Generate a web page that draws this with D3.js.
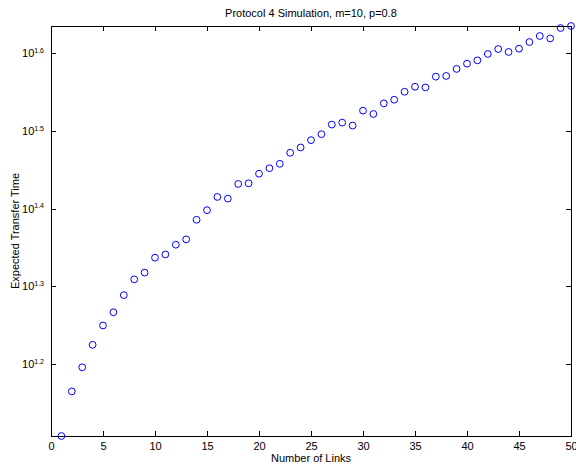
<!DOCTYPE html>
<html>
<head>
<meta charset="utf-8">
<script src="https://cdn.jsdelivr.net/npm/d3@7"></script>
<style>
  html, body { margin: 0; padding: 0; background: #fff; }
  svg { display: block; font-family: "Liberation Sans", Arial, sans-serif; }
  .axis path, .axis line { stroke: #000; stroke-width: 1; shape-rendering: crispEdges; }
  .axis text { fill: #000; }
</style>
</head>
<body>
<svg id="chart" width="576" height="465"></svg>
<script>
// Number of links on the path
const links = d3.range(1, 51);
// Expected transfer time per link count (simulation, m=10, p=0.8)
const transferTime = [
  12.81, 14.62, 15.70, 16.78, 17.77, 18.48, 19.44, 20.37, 20.78, 21.72,
  21.93, 22.57, 22.93, 24.30, 25.00, 26.00, 25.87, 27.02, 27.07, 27.85,
  28.31, 28.68, 29.63, 30.10, 30.76, 31.31, 32.21, 32.40, 32.12, 33.57,
  33.24, 34.30, 34.67, 35.50, 36.03, 35.96, 37.12, 37.20, 37.98, 38.58,
  38.96, 39.70, 40.29, 39.94, 40.33, 41.13, 41.87, 41.57, 42.87, 43.13
];
const xTicks = [0, 5, 10, 15, 20, 25, 30, 35, 40, 45, 50];
const yTickExponents = ["1.2", "1.3", "1.4", "1.5", "1.6"];

const title = "Protocol 4 Simulation, m=10, p=0.8";
const xLabel = "Number of Links";
const yLabel = "Expected Transfer Time";

const svg = d3.select("#chart");
const plotLeft = 51, plotRight = 571, plotTop = 26, plotBottom = 436;

const x = d3.scaleLinear().domain([0, 50]).range([plotLeft, plotRight]);
const y = d3.scaleLog().domain(d3.extent(transferTime)).range([plotBottom, plotTop]);
const yTickValues = yTickExponents.map(e => Math.pow(10, +e));

// Bottom axis with labels
svg.append("g").attr("class", "axis")
  .attr("transform", `translate(0,${plotBottom})`)
  .call(d3.axisBottom(x).tickValues(xTicks).tickSizeInner(-5).tickSizeOuter(0).tickPadding(6))
  .attr("font-size", 11).attr("font-family", null);

// Top axis (ticks only)
svg.append("g").attr("class", "axis")
  .attr("transform", `translate(0,${plotTop})`)
  .call(d3.axisTop(x).tickValues(xTicks).tickSizeInner(-5).tickSizeOuter(0).tickFormat(() => ""));

// Left axis with 10^k labels
const gy = svg.append("g").attr("class", "axis")
  .attr("transform", `translate(${plotLeft},0)`)
  .call(d3.axisLeft(y).tickValues(yTickValues).tickSizeInner(-5).tickSizeOuter(0).tickFormat(() => ""));

gy.selectAll(".tick").append("text")
  .attr("x", -7).attr("dy", "0.32em")
  .attr("text-anchor", "end")
  .attr("font-size", 11)
  .each(function(d, i) {
    const t = d3.select(this);
    t.append("tspan").text("10");
    t.append("tspan").attr("dy", "-0.6em").attr("font-size", 7).text(yTickExponents[i]);
  });

// Right axis (ticks only)
svg.append("g").attr("class", "axis")
  .attr("transform", `translate(${plotRight},0)`)
  .call(d3.axisRight(y).tickValues(yTickValues).tickSizeInner(-5).tickSizeOuter(0).tickFormat(() => ""));

// Data markers
svg.append("g")
  .selectAll("circle")
  .data(links)
  .join("circle")
  .attr("cx", d => x(d))
  .attr("cy", (d, i) => y(transferTime[i]))
  .attr("r", 3.4)
  .attr("fill", "none")
  .attr("stroke", "#0000ff")
  .attr("stroke-width", 1);

// Title and axis labels
svg.append("text")
  .attr("x", (plotLeft + plotRight) / 2).attr("y", 17)
  .attr("text-anchor", "middle").attr("font-size", 11)
  .text(title);

svg.append("text")
  .attr("x", (plotLeft + plotRight) / 2).attr("y", 462)
  .attr("text-anchor", "middle").attr("font-size", 11)
  .text(xLabel);

svg.append("text")
  .attr("transform", `translate(19,${(plotTop + plotBottom) / 2}) rotate(-90)`)
  .attr("text-anchor", "middle").attr("font-size", 11)
  .text(yLabel);
</script>
</body>
</html>
